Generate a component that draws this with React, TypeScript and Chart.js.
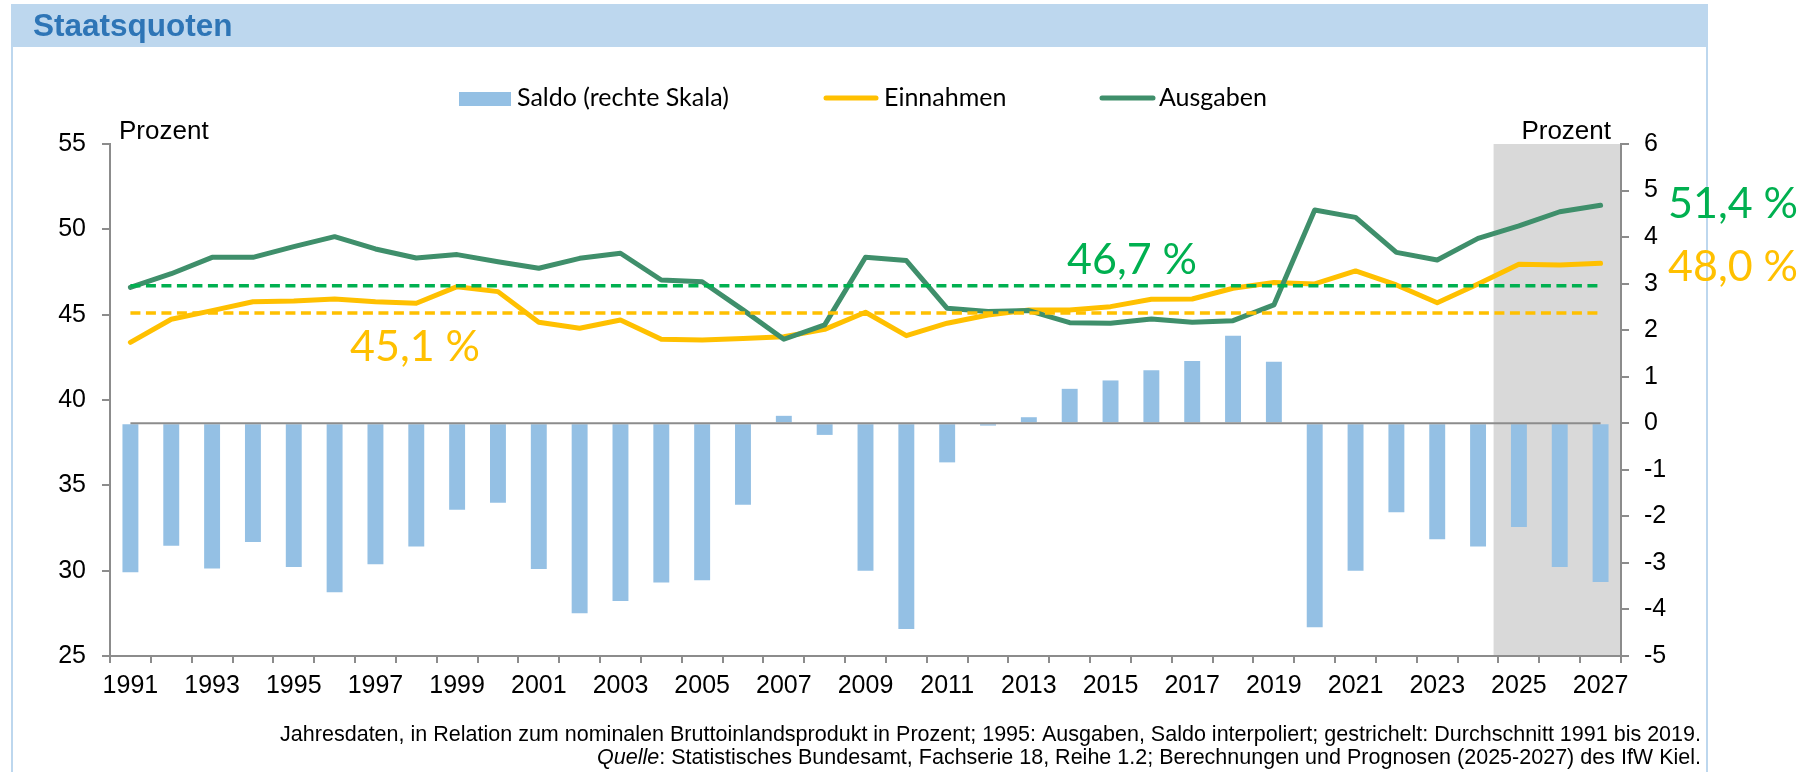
import React, { useEffect, useRef } from "react";
import { Chart, registerables } from "chart.js";

Chart.register(...registerables);

const W = 1799;
const H = 772;

const YEARS = [
  "1991", "1992", "1993", "1994", "1995", "1996", "1997", "1998", "1999", "2000",
  "2001", "2002", "2003", "2004", "2005", "2006", "2007", "2008", "2009", "2010",
  "2011", "2012", "2013", "2014", "2015", "2016", "2017", "2018", "2019", "2020",
  "2021", "2022", "2023", "2024", "2025", "2026", "2027",
];

const SALDO = [
  -3.2, -2.63, -3.12, -2.55, -3.09, -3.63, -3.03, -2.65, -1.86, -1.71,
  -3.13, -4.08, -3.82, -3.42, -3.37, -1.75, 0.16, -0.25, -3.17, -4.42,
  -0.84, -0.05, 0.13, 0.74, 0.92, 1.14, 1.34, 1.88, 1.32, -4.38,
  -3.17, -1.91, -2.49, -2.65, -2.23, -3.09, -3.41,
];

const EINNAHMEN = [
  43.38, 44.73, 45.24, 45.76, 45.8, 45.92, 45.76, 45.67, 46.64, 46.35,
  44.55, 44.2, 44.69, 43.56, 43.52, 43.6, 43.71, 44.14, 45.14, 43.77,
  44.5, 44.98, 45.27, 45.27, 45.47, 45.9, 45.92, 46.55, 46.88, 46.8,
  47.56, 46.74, 45.7, 46.8, 47.95, 47.91, 48.01,
];

const AUSGABEN = [
  46.6, 47.4, 48.36, 48.36, 48.99, 49.57, 48.85, 48.32, 48.52, 48.1,
  47.72, 48.3, 48.6, 47.03, 46.93, 45.28, 43.56, 44.4, 48.36, 48.17,
  45.37, 45.18, 45.24, 44.53, 44.5, 44.75, 44.55, 44.65, 45.57, 51.13,
  50.7, 48.65, 48.2, 49.47, 50.2, 51.03, 51.41,
];

const AVG_EINNAHMEN = 45.1;
const AVG_AUSGABEN = 46.7;
const FORECAST_START = "2025";

const LEFT_TICKS = { min: 25, max: 55, step: 5 };
const RIGHT_TICKS = { min: -5, max: 6, step: 1 };

const TITLE = "Staatsquoten";
const UNIT = "Prozent";
const FOOT_1 =
  "Jahresdaten, in Relation zum nominalen Bruttoinlandsprodukt in Prozent; 1995: Ausgaben, Saldo interpoliert; gestrichelt: Durchschnitt 1991 bis 2019.";
const FOOT_2_ITALIC = "Quelle";
const FOOT_2_REST =
  ": Statistisches Bundesamt, Fachserie 18, Reihe 1.2; Berechnungen und Prognosen (2025-2027) des IfW Kiel.";

const C_BAR = "#94C0E4";
const C_EIN = "#FFC000";
const C_AUS = "#3F8F6B";
const C_AVG_AUS = "#00B050";
const C_AXIS = "#8C8C8C";
const C_BAND = "#BDD7EE";
const C_TITLE = "#2E75B6";

const ARIAL = "'Liberation Sans', Arial, sans-serif";
const CALI = "Lato, 'Open Sans', sans-serif";

const fmt = (v: number) => v.toFixed(1).replace(".", ",") + " %";

const decorPlugin = {
  id: "decor",
  beforeDraw(chart: any) {
    const ctx = chart.ctx;
    const area = chart.chartArea;
    const x = chart.scales.x;
    ctx.save();
    ctx.fillStyle = "#ffffff";
    ctx.fillRect(0, 0, W, H);
    // header band
    ctx.fillStyle = C_BAND;
    ctx.fillRect(11, 4, 1697, 43);
    ctx.strokeStyle = C_BAND;
    ctx.lineWidth = 2;
    ctx.beginPath();
    ctx.moveTo(12, 4);
    ctx.lineTo(12, H);
    ctx.moveTo(1707, 4);
    ctx.lineTo(1707, H);
    ctx.stroke();
    ctx.fillStyle = C_TITLE;
    ctx.font = `bold 31.5px ${ARIAL}`;
    ctx.textBaseline = "alphabetic";
    ctx.textAlign = "left";
    ctx.fillText(TITLE, 33, 36);
    // forecast shading
    const idx = YEARS.indexOf(FORECAST_START);
    const step = x.getPixelForValue(1) - x.getPixelForValue(0);
    const left = x.getPixelForValue(idx) - step * 0.62;
    ctx.fillStyle = "#D9D9D9";
    ctx.fillRect(left, area.top, area.right - left, area.bottom - area.top);
    ctx.restore();
  },
  afterDatasetDraw(chart: any, args: any) {
    if (args.index !== 0) return;
    const ctx = chart.ctx;
    const x = chart.scales.x;
    const y1 = chart.scales.y1;
    const y0 = y1.getPixelForValue(0);
    ctx.save();
    ctx.strokeStyle = C_AXIS;
    ctx.lineWidth = 2;
    ctx.beginPath();
    ctx.moveTo(x.getPixelForValue(0), y0);
    ctx.lineTo(x.getPixelForValue(YEARS.length - 1), y0);
    ctx.stroke();
    ctx.restore();
  },
  afterDraw(chart: any) {
    const ctx = chart.ctx;
    ctx.save();
    ctx.textAlign = "left";
    ctx.textBaseline = "alphabetic";

    // legend
    const ds = chart.data.datasets;
    ctx.font = `25px ${CALI}`;
    ctx.fillStyle = C_BAR;
    ctx.fillRect(459, 92, 52, 14);
    ctx.fillStyle = "#000";
    ctx.fillText(ds[0].label, 517, 106);
    const lineItem = (d: any, x0: number, x1: number, tx: number) => {
      ctx.strokeStyle = d.borderColor;
      ctx.lineWidth = 5;
      ctx.lineCap = "round";
      ctx.beginPath();
      ctx.moveTo(x0, 98);
      ctx.lineTo(x1, 98);
      ctx.stroke();
      ctx.fillStyle = "#000";
      ctx.fillText(d.label, tx, 106);
    };
    lineItem(ds[1], 826, 876, 884);
    lineItem(ds[2], 1102, 1153, 1159);

    // unit labels
    ctx.font = `26px ${ARIAL}`;
    ctx.fillStyle = "#000";
    ctx.fillText(UNIT, 119, 139);
    ctx.textAlign = "right";
    ctx.fillText(UNIT, 1611, 139);

    // annotations
    ctx.textAlign = "left";
    ctx.font = `43px ${CALI}`;
    ctx.fillStyle = C_AVG_AUS;
    ctx.fillText(fmt(AVG_AUSGABEN), 1067, 274);
    ctx.fillText(fmt(AUSGABEN[AUSGABEN.length - 1]), 1668, 218);
    ctx.fillStyle = C_EIN;
    ctx.fillText(fmt(AVG_EINNAHMEN), 350, 361);
    ctx.fillText(fmt(EINNAHMEN[EINNAHMEN.length - 1]), 1668, 281);

    // footer
    const right = 1701;
    ctx.font = `100px ${ARIAL}`;
    const w100 = ctx.measureText(FOOT_1).width;
    const fs = (100 * (right - 279)) / w100;
    ctx.fillStyle = "#000";
    ctx.font = `${fs}px ${ARIAL}`;
    ctx.textAlign = "right";
    ctx.fillText(FOOT_1, right, 741);
    const wRest = ctx.measureText(FOOT_2_REST).width;
    ctx.fillText(FOOT_2_REST, right, 764);
    ctx.font = `italic ${fs}px ${ARIAL}`;
    ctx.fillText(FOOT_2_ITALIC, right - wRest, 764);
    ctx.restore();
  },
};

export default function App() {
  const ref = useRef<HTMLCanvasElement | null>(null);

  useEffect(() => {
    document.body.style.margin = "0";
    const canvas = ref.current;
    if (!canvas) return;
    Chart.defaults.font.family = ARIAL;
    const chart = new Chart(canvas, {
      type: "bar",
      data: {
        labels: YEARS,
        datasets: [
          {
            type: "bar",
            label: "Saldo (rechte Skala)",
            data: SALDO,
            yAxisID: "y1",
            backgroundColor: C_BAR,
            categoryPercentage: 1,
            barPercentage: 0.39,
            order: 3,
          } as any,
          {
            type: "line",
            label: "Einnahmen",
            data: EINNAHMEN,
            yAxisID: "y",
            borderColor: C_EIN,
            backgroundColor: C_EIN,
            borderWidth: 5,
            pointRadius: 0,
            tension: 0,
            borderCapStyle: "round",
            borderJoinStyle: "round",
            order: 2,
          },
          {
            type: "line",
            label: "Ausgaben",
            data: AUSGABEN,
            yAxisID: "y",
            borderColor: C_AUS,
            backgroundColor: C_AUS,
            borderWidth: 5,
            pointRadius: 0,
            tension: 0,
            borderCapStyle: "round",
            borderJoinStyle: "round",
            order: 1,
          },
          {
            type: "line",
            label: "Durchschnitt Einnahmen",
            data: YEARS.map(() => AVG_EINNAHMEN),
            yAxisID: "y",
            borderColor: C_EIN,
            borderWidth: 3.5,
            borderDash: [10, 5.5],
            pointRadius: 0,
            order: 0,
          },
          {
            type: "line",
            label: "Durchschnitt Ausgaben",
            data: YEARS.map(() => AVG_AUSGABEN),
            yAxisID: "y",
            borderColor: C_AVG_AUS,
            borderWidth: 3.5,
            borderDash: [10, 5.5],
            pointRadius: 0,
            order: 0,
          },
        ],
      },
      options: {
        responsive: false,
        animation: false,
        devicePixelRatio: 1,
        layout: { padding: { top: 144, left: 0, right: 0, bottom: 0 } },
        plugins: {
          legend: { display: false },
          title: { display: false },
          tooltip: { enabled: false },
        },
        events: [],
        scales: {
          x: {
            type: "category",
            offset: true,
            grid: {
              display: true,
              offset: true,
              drawOnChartArea: false,
              drawTicks: true,
              tickLength: 7,
              color: C_AXIS,
              lineWidth: 2,
            },
            border: { display: true, color: C_AXIS, width: 2 },
            ticks: {
              autoSkip: false,
              maxRotation: 0,
              minRotation: 0,
              padding: 8,
              color: "#000",
              font: { size: 25, family: ARIAL },
              callback: (_v: any, i: number) => (i % 2 === 0 ? YEARS[i] : ""),
            },
            afterFit: (s: any) => {
              s.height = H - 656;
            },
          },
          y: {
            type: "linear",
            position: "left",
            min: LEFT_TICKS.min,
            max: LEFT_TICKS.max,
            grid: {
              drawOnChartArea: false,
              drawTicks: true,
              tickLength: 8,
              color: C_AXIS,
              lineWidth: 2,
            },
            border: { display: true, color: C_AXIS, width: 2 },
            ticks: {
              stepSize: LEFT_TICKS.step,
              padding: 16,
              color: "#000",
              font: { size: 25, family: ARIAL },
            },
            afterFit: (s: any) => {
              s.width = 110;
            },
          },
          y1: {
            type: "linear",
            position: "right",
            min: RIGHT_TICKS.min,
            max: RIGHT_TICKS.max,
            grid: {
              drawOnChartArea: false,
              drawTicks: true,
              tickLength: 8,
              color: C_AXIS,
              lineWidth: 2,
            },
            border: { display: true, color: C_AXIS, width: 2 },
            ticks: {
              stepSize: RIGHT_TICKS.step,
              padding: 15,
              color: "#000",
              font: { size: 25, family: ARIAL },
            },
            afterFit: (s: any) => {
              s.width = W - 1621;
            },
          },
        },
      } as any,
      plugins: [decorPlugin],
    });
    return () => chart.destroy();
  }, []);

  return (
    <div style={{ position: "absolute", left: 0, top: 0, width: W, height: H, background: "#fff" }}>
      <canvas ref={ref} width={W} height={H} style={{ display: "block", width: W, height: H }} />
    </div>
  );
}
